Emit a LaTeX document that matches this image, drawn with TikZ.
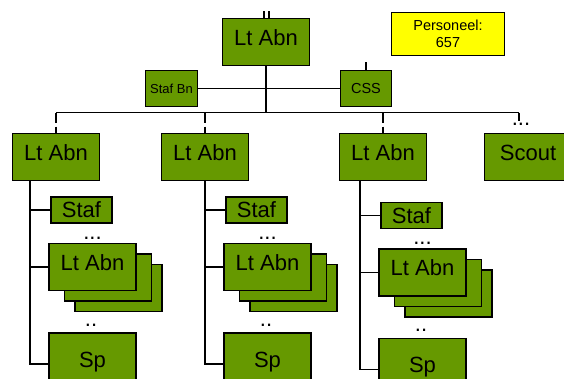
\documentclass[tikz,border=0pt]{standalone}
\usepackage{fontspec}
\setmainfont{Liberation Sans}
\definecolor{abngreen}{HTML}{669900}
\definecolor{noteyellow}{HTML}{FFFF00}
\begin{document}
\begin{tikzpicture}[x=1pt,y=-1pt,
    box/.style={draw,line width=1.5pt,fill=abngreen,inner sep=0pt},
    bigbox/.style={box,minimum width=87pt,minimum height=47pt,
      font=\fontsize{22}{26}\selectfont,text height=16pt,text depth=10pt},
    stafbox/.style={box,minimum width=61pt,minimum height=26pt,
      font=\fontsize{22}{26}\selectfont},
    smallbox/.style={box,minimum height=36pt},
    note/.style={draw,line width=1.5pt,fill=noteyellow,inner sep=0pt,
      minimum width=113pt,minimum height=43pt,align=center,
      font=\fontsize{14.5}{17}\selectfont},
    dots/.style={inner sep=0pt,anchor=base,font=\fontsize{22}{26}\selectfont},
    link/.style={line width=1.4pt},
    drop/.style={link,dash pattern=on 10pt off 4pt on 30pt}]
  \useasboundingbox (0,0) rectangle (564,378);
  \draw
    (266,42) node[bigbox] (top){Lt Abn}
    (448,34) node[note] (pers){Personeel:\\657}
    (171.5,88.5) node[smallbox,minimum width=52pt,
      font=\fontsize{13}{15}\selectfont] (stafbn){Staf Bn}
    (366,88.5) node[smallbox,minimum width=51pt,
      font=\fontsize{14.5}{17}\selectfont] (css){CSS}
    (56,157) node[bigbox] (lt1){Lt Abn}
    (205,157) node[bigbox] (lt2){Lt Abn}
    (383,157) node[bigbox] (lt3){Lt Abn}
    (528,157) node[bigbox] (scout){Scout};
  \coordinate (in1) at (264,11);
  \coordinate (in2) at (269,11);
  \coordinate (hub) at (266,112.5);
  \coordinate (busl) at (56,112.5);
  \coordinate (busr) at (519,112.5);
  \coordinate (cssup) at (366,62);
  \coordinate (scoutend) at (519,121);
  \node[dots] (scoutdots) at (521,125) {...};
  \begin{scope}[link]
    \draw (in1) -- (in1 |- top.north);
    \draw (in2) -- (in2 |- top.north);
    \draw (top.south) -- (hub);
    \draw (stafbn.east) -- (css.west);
    \draw (css.north) -- (cssup);
    \draw (busl) -- (busr);
    \draw (busr) -- (scoutend);
    \draw[drop] (lt1.north |- busl) -- (lt1.north);
    \draw[drop] (lt2.north |- busl) -- (lt2.north);
    \draw[drop] (lt3.north |- busl) -- (lt3.north);
  \end{scope}
  % the three columns below the companies
  \foreach \i/\x/\y in {1/92.5/267,2/267.5/267,3/422.5/272.5}{
    \draw (\x-11,\y-57) node[stafbox] (staf\i){Staf};
    \draw (\x+26,\y+21) node[bigbox] (back\i){}
      (\x+15.5,\y+10.5) node[bigbox] (mid\i){}
      (\x,\y) node[bigbox] (abn\i){Lt Abn};
    \draw (\x,\y+97) node[bigbox,minimum height=62pt] (sp\i){Sp};
    \node[dots] (updots\i) at (\x,\y-28) {...};
    \node[dots] (lowdots\i) at (\x-1.5,\y+59) {..};
    \coordinate (col\i) at (\x-62.5,181);
    \draw[link] (col\i) |- (sp\i.west);
    \draw[link] (col\i |- staf\i.west) -- (staf\i.west);
    \draw[link] (col\i |- abn\i.west) -- (abn\i.west);
  }
\end{tikzpicture}
\end{document}
